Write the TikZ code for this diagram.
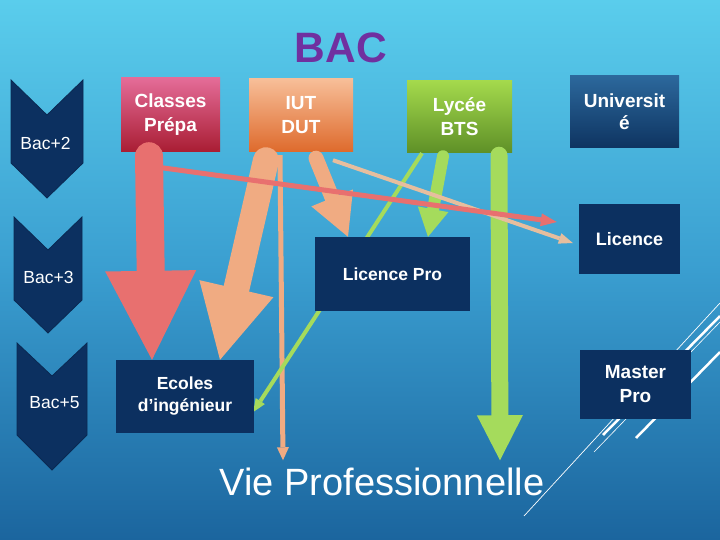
\documentclass[tikz,border=0pt]{standalone}
\usepackage{fontspec}
\setmainfont{Liberation Sans}
\usetikzlibrary{arrows.meta}
\definecolor{navyblue}{HTML}{0C3060}
\definecolor{bacpurple}{HTML}{7030A0}
\definecolor{prepred}{HTML}{E8706F}
\definecolor{iutorange}{HTML}{F0AB82}
\definecolor{iuttan}{HTML}{E6BE9E}
\definecolor{btsgreen}{HTML}{A5DB5C}
\definecolor{skytop}{HTML}{5ACDEC}
\definecolor{skymid}{HTML}{3A9ED0}
\definecolor{skybot}{HTML}{1B659E}
\definecolor{prepatop}{HTML}{E46C98}
\definecolor{prepabot}{HTML}{A91D33}
\definecolor{iuttop}{HTML}{F7BE98}
\definecolor{iutbot}{HTML}{DE6A2C}
\definecolor{lyceetop}{HTML}{A4D94C}
\definecolor{lyceebot}{HTML}{5E9027}
\definecolor{univtop}{HTML}{2C689C}
\definecolor{univbot}{HTML}{0E3461}
\pgfdeclarelayer{background}
\pgfdeclarelayer{front}
\pgfsetlayers{background,main,front}

\begin{document}
\begin{tikzpicture}[x=1pt, y=-1pt,
  box/.style={text=white, align=center, inner sep=0pt, font=\bfseries\fontsize{19}{24}\selectfont},
  navybox/.style={box, fill=navyblue},
  chevron/.style={fill=navyblue, draw=navyblue!85!black, line width=0.8pt},
  bactext/.style={text=white, inner sep=0pt, font=\fontsize{17.5}{20}\selectfont},
  flow/.style={line cap=round}]
\useasboundingbox (0,0) rectangle (720,540);
% Background and slide decoration
\begin{pgfonlayer}{background}
\shade[top color=skytop, bottom color=skybot, middle color=skymid] (0,0) rectangle (720,540);
\draw[white, line width=0.7pt] (720,303) -- (524,516);
\draw[white, line width=2.5pt] (720,316) -- (603,435);
\draw[white, line width=0.6pt] (720,322) -- (594,452);
\draw[white, line width=2.5pt] (720,352) -- (636,438);
\end{pgfonlayer}

% Levels on the left
\path[chevron] (11,80) -- (47,115) -- (83,80) -- (83,163) -- (47,198) -- (11,163) -- cycle;
\path[chevron] (14,217) -- (48,250) -- (82,217) -- (82,300) -- (48,333) -- (14,300) -- cycle;
\path[chevron] (17,343) -- (52,376) -- (87,343) -- (87,435) -- (52,470) -- (17,435) -- cycle;
\node[bactext] (bac2) at (45.5,143) {Bac+2};
\node[bactext] (bac3) at (48.5,277) {Bac+3};
\node[bactext] (bac5) at (54.5,403) {Bac+5};

% Title and the ways after the BAC
\node[text=bacpurple, inner sep=0pt, anchor=base, font=\bfseries\fontsize{42.5}{44}\selectfont] (bac) at (341,63) {BAC};
\node[box, top color=prepatop, bottom color=prepabot, minimum width=99pt, minimum height=74pt] (prepa) at (170.5,115) {Classes\\Prépa};
\node[box, top color=iuttop, bottom color=iutbot, minimum width=104pt, minimum height=73pt] (iut) at (301,115.5) {IUT\\DUT};
\node[box, top color=lyceetop, bottom color=lyceebot, minimum width=105pt, minimum height=72pt] (lycee) at (459.5,117) {Lycée\\BTS};
\node[box, top color=univtop, bottom color=univbot, minimum width=109pt, minimum height=72pt, font=\bfseries\fontsize{19}{22}\selectfont] (univ) at (624.5,112) {Universit\\é};

% Targets, kept in front of the arrows
\begin{pgfonlayer}{front}
\node[navybox, minimum width=155pt, minimum height=74pt, font=\bfseries\fontsize{17.5}{22}\selectfont] (licpro) at (392.5,274) {Licence Pro};
\node[navybox, minimum width=138pt, minimum height=73pt, font=\bfseries\fontsize{17.5}{22}\selectfont] (ecoles) at (185,396.5) {Ecoles\\d’ingénieur};
\node[navybox, minimum width=101pt, minimum height=70pt, font=\bfseries\fontsize{18}{22}\selectfont] (licence) at (629.5,239) {Licence};
\node[navybox, minimum width=111pt, minimum height=69pt] (master) at (635.5,384.5) {Master\\Pro};
\end{pgfonlayer}
\node[text=white, inner sep=0pt, anchor=base, font=\fontsize{38}{40}\selectfont] (vie) at (382,495) {Vie Professionnelle};

% Draw arrows
\draw[flow, prepred, line width=28pt, -{Triangle[length=89pt, width=91pt, line width=0pt]}]
  ([xshift=-21.5pt, yshift=-4pt]prepa.south) -- ([xshift=-33pt]ecoles.north);
\draw[flow, iutorange, line width=26pt, -{Triangle[length=73pt, width=76pt, line width=0pt]}]
  ([xshift=-35pt, yshift=-8pt]iut.south) -- ([xshift=35pt]ecoles.north);
\draw[flow, iutorange, line width=15pt, -{Triangle[length=42pt, width=45pt, line width=0pt]}]
  ([xshift=15pt, yshift=-6pt]iut.south) -- ([xshift=-44.5pt]licpro.north);
\draw[flow, btsgreen, line width=17pt, -{Triangle[length=45pt, width=46pt, line width=0pt]}]
  ([xshift=39.5pt, yshift=-2pt]lycee.south) -- ([xshift=118pt, yshift=7pt]vie.north);
\draw[flow, btsgreen, line width=12pt, -{Triangle[length=28pt, width=31pt, line width=0pt]}]
  ([xshift=-16.5pt, yshift=-3pt]lycee.south) -- ([xshift=35.5pt]licpro.north);

% Thin connectors
\draw[iutorange, line width=5pt, -{Triangle[length=13pt, width=12pt, line width=0pt]}]
  ([xshift=-21pt, yshift=-3pt]iut.south) -- ([xshift=-99pt, yshift=7pt]vie.north);
\draw[btsgreen, line width=4pt, -{Triangle[length=13pt, width=11pt, line width=0pt]}]
  ([xshift=-37.5pt]lycee.south) -- ([xshift=-1pt, yshift=-15.5pt]ecoles.east);
\draw[iuttan, line width=4pt, -{Triangle[length=14pt, width=11pt, line width=0pt]}]
  ([xshift=32pt, yshift=-8pt]iut.south) -- ([xshift=-6pt, yshift=-4pt]licence.west);
\draw[prepred, line width=5pt, -{Triangle[length=16pt, width=13pt, line width=0pt]}]
  ([xshift=-20pt, yshift=-14pt]prepa.south) -- ([xshift=-22pt, yshift=17pt]licence.west);
\end{tikzpicture}
\end{document}
